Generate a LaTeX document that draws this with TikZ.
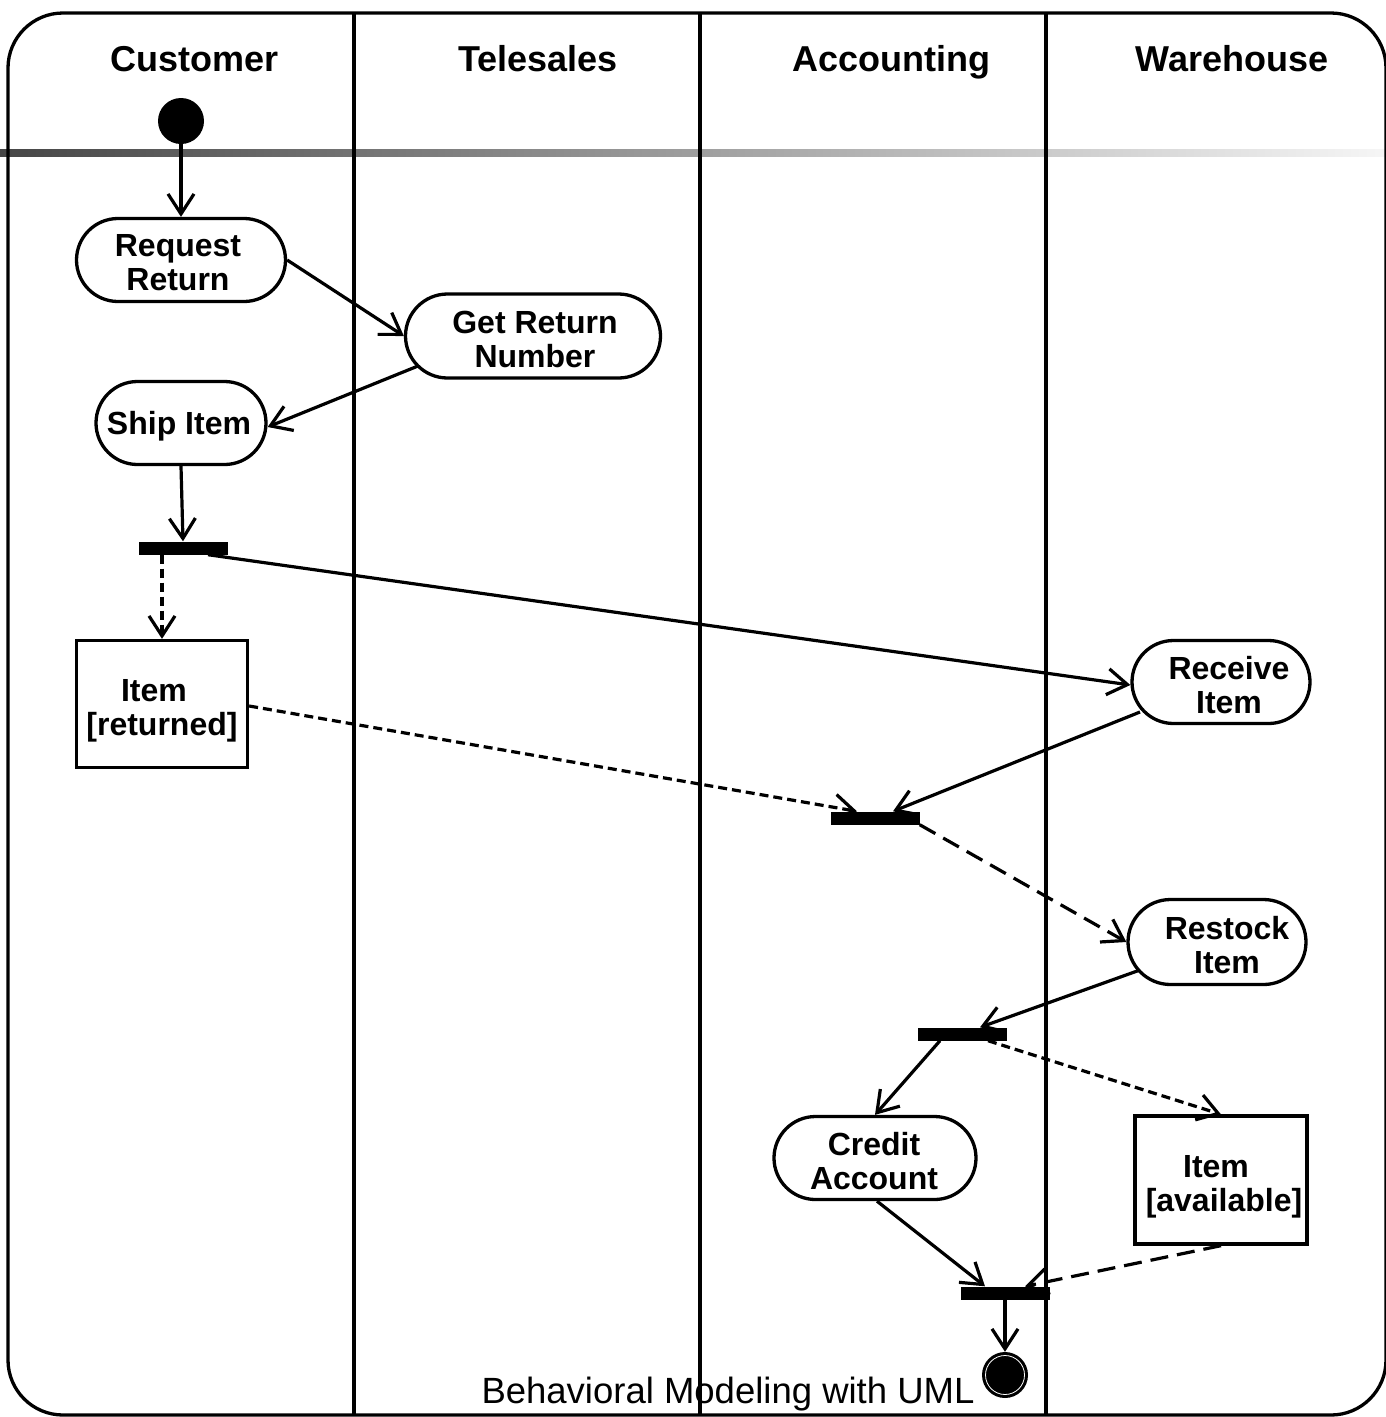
\documentclass[tikz,border=0pt]{standalone}
\usepackage{fontspec}
\setmainfont{Liberation Sans}
\usetikzlibrary{arrows.meta,shapes.misc,calc}
\definecolor{gradl}{RGB}{70,70,70}
\definecolor{gradr}{RGB}{246,246,246}
\begin{document}
\begin{tikzpicture}[x=1pt,y=-1pt,
  lbl/.style={font=\bfseries\fontsize{32}{34}\selectfont, align=center, inner sep=0pt},
  act/.style={rounded rectangle, draw, line width=3.3pt, inner sep=0pt},
  obj/.style={rectangle, draw, line width=3.3pt, inner sep=0pt},
  bar/.style={rectangle, fill=black, inner sep=0pt, minimum width=89pt, minimum height=13pt},
  lane/.style={font=\bfseries\fontsize{36}{40}\selectfont, anchor=base, inner sep=0pt},
  flow/.style={line width=3.2pt, -{Straight Barb[length=20pt,width=26pt]}},
  shortdash/.style={flow, dash pattern=on 9pt off 5pt},
  longdash/.style={flow, dash pattern=on 18pt off 9pt}
]
\useasboundingbox (0,0) rectangle (1386,1417);
% footer
\node[font=\fontsize{36.5}{40}\selectfont, anchor=base, inner sep=0pt] (foot) at (728,1403) {Behavioral Modeling with UML};
% gradient separator
\shade[left color=gradl, right color=gradr] (0,149) rectangle (1386,156);
% frame and lanes
\draw[line width=3.3pt, rounded corners=55pt] (8,13) rectangle (1386,1415);
\draw[line width=3.3pt] (354,13) -- (354,1415);
\draw[line width=3.3pt] (700,13) -- (700,1415);
\draw[line width=3.3pt] (1046,13) -- (1046,1415);
% lane titles
\node[lane] (tc) at (195,71) {Customer};
\node[lane] (tt) at (538,71) {Telesales};
\node[lane] (ta) at (891,71) {Accounting};
\node[lane] (tw) at (1232,71) {Warehouse};
% nodes
\node[circle, fill=black, inner sep=0pt, minimum size=46pt] (start) at (181,121) {};
\node[act, minimum width=209pt, minimum height=83pt,
  label={[lbl, xshift=-3pt, yshift=-3pt]center:{Request\\Return}}] (rr) at (181,260) {};
\node[act, minimum width=255pt, minimum height=84pt,
  label={[lbl, xshift=2pt, yshift=-3pt]center:{Get Return\\Number}}] (grn) at (533,336) {};
\node[act, minimum width=170pt, minimum height=83pt,
  label={[lbl, xshift=-2pt, yshift=-3pt]center:{Ship Item}}] (ship) at (181,423) {};
\node[bar] (b1) at (183,548) {};
\node[obj, minimum width=171pt, minimum height=127pt,
  label={[lbl, yshift=-7pt]center:{Item\hspace*{16pt}\\{}[returned]}}] (item1) at (162,704) {};
\node[act, minimum width=178pt, minimum height=83pt,
  label={[lbl, xshift=8pt, yshift=-3pt]center:{Receive\\Item}}] (recv) at (1221,682) {};
\node[bar] (b2) at (875,818) {};
\node[act, minimum width=178pt, minimum height=85pt,
  label={[lbl, xshift=10pt, yshift=-3pt]center:{Restock\\Item}}] (rest) at (1217,942) {};
\node[bar] (b3) at (962,1034) {};
\node[act, minimum width=202pt, minimum height=83pt,
  label={[lbl, xshift=-1pt, yshift=-3pt]center:{Credit\\Account}}] (cred) at (875,1158) {};
\node[obj, minimum width=172pt, minimum height=128pt,
  label={[lbl, xshift=3pt, yshift=-7pt]center:{Item\hspace*{16pt}\\{}[available]}}] (item2) at (1221,1180) {};
\node[bar] (b4) at (1005,1293) {};
\node[circle, fill=black, inner sep=0pt, minimum size=46pt] (end) at (1005,1375) {};
\draw[white, line width=0.8pt] (end.center) circle[radius=19.5pt];
% edges
\draw[flow] (start) -- (rr.north);
\draw[flow] (rr.east) -- (grn.west);
\draw[flow] ($(grn.center)+(-115,30)$) -- ($(ship.east)+(0,4)$);
\draw[flow] (ship.south) -- (b1.north);
\draw[shortdash] ($(b1.south)+(-21,0)$) -- (item1.north);
\draw[flow] ($(b1.south)+(25,0)$) -- ($(recv.west)+(0,3)$);
\draw[shortdash] ($(item1.east)+(0,2)$) -- ($(b2.north)+(-18,0)$);
\draw[flow] ($(recv.center)+(-81,30)$) -- ($(b2.north)+(18,0)$);
\draw[longdash] (b2.south east) -- (rest.west);
\draw[flow] ($(rest.center)+(-77,28)$) -- ($(b3.north)+(18,0)$);
\draw[flow] ($(b3.south)+(-22,0)$) -- (cred.north);
\draw[shortdash] ($(b3.south)+(26,0)$) -- (item2.north);
\draw[flow] ($(cred.south)+(2,0)$) -- ($(b4.north)+(-20,0)$);
\draw[longdash] (item2.south) -- ($(b4.north)+(20,0)$);
\draw[flow] (b4.south) -- (end.north);
\end{tikzpicture}
\end{document}
